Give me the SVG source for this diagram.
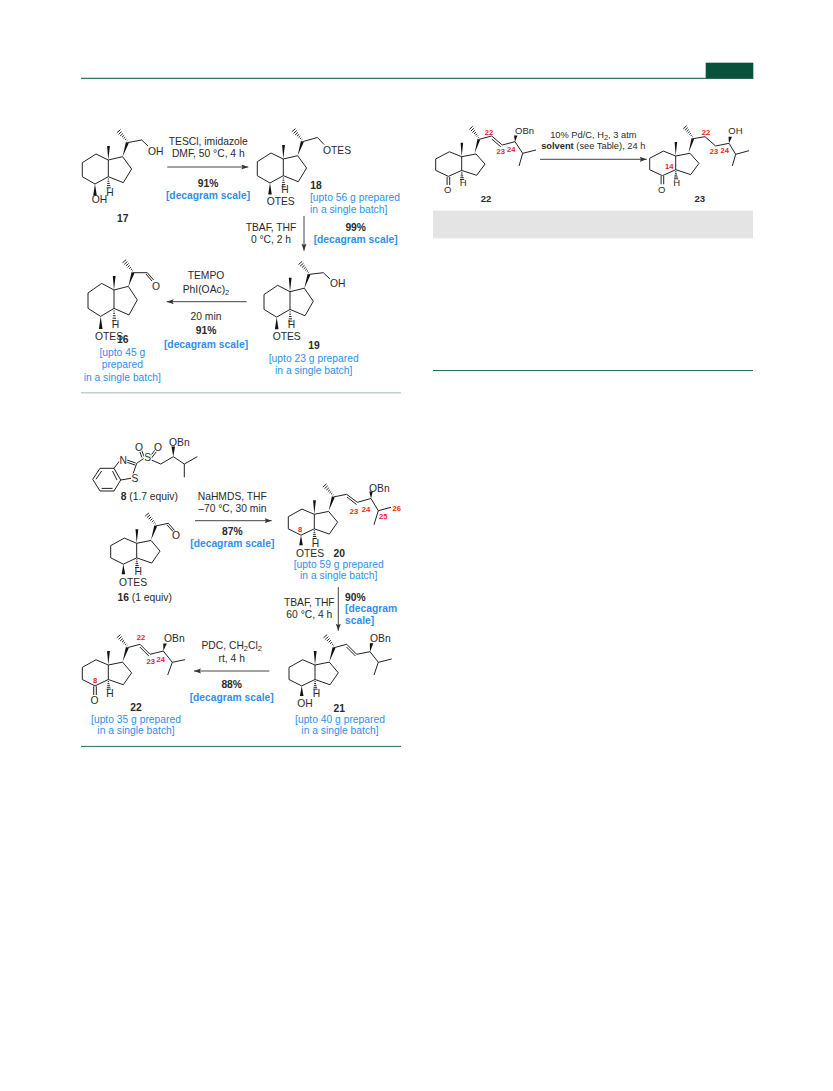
<svg xmlns="http://www.w3.org/2000/svg" width="833" height="1091" viewBox="0 0 833 1091">
<style>
text{font-family:"Liberation Sans",Arial,sans-serif;font-size:10.3px;fill:#2a2a2a}
.c{text-anchor:middle}
.b{font-weight:bold}
.bl{fill:#2f8fee}
.r{fill:#ee2222;font-size:7.6px;font-weight:bold;text-anchor:middle}
.s{font-size:9.5px}
.sub{font-size:7.5px}
.at{stroke:#fff;stroke-width:2px;paint-order:stroke}
.bd{fill:none;stroke:#222;stroke-width:1;vector-effect:non-scaling-stroke}
.w{fill:#111;stroke:none}
.ar{stroke:#444;stroke-width:1;fill:none;marker-end:url(#ah)}
</style>
<defs>
<marker id="ah" markerUnits="userSpaceOnUse" markerWidth="8" markerHeight="6" refX="7" refY="2.5" orient="auto"><path d="M0,0L7,2.5L0,5L1.3,2.5Z" fill="#333"/></marker>
<g id="up">
<path class="w" d="M0,0L-1.2,-14L1.6,-14ZM14.3,-3.3L17.6,-18L20.4,-16.8Z"/>
<path class="bd" d="M18.4,-19L19.1,-19.6M16.8,-20.1L18,-21.2M15.2,-21.3L16.9,-22.9M13.6,-22.7L15.8,-24.7M11.9,-24.1L14.6,-26.5M10.2,-25.6L13.4,-28.4M8.5,-27.2L12.2,-30.4"/>
</g>
<g id="ring">
<path class="bd" d="M0,0L-12.3,-6L-26,2.7V16.7L-13.3,24L0,16.7V0L14.3,-3.3L23.3,9L15,22.7L0,16.7"/>
<path class="bd" d="M-0.5,19H0.7M-0.8,21.2H1M-1.1,23.4H1.5M-1.4,25.6H2M-1.7,27.8H2.5"/>
</g>
<path id="cw" class="w" d="M-13.3,24L-15.1,35.5H-11.5Z"/>
<path id="co" class="bd" d="M-14.6,24.5V34.5M-12,24.5V34.5"/>
</defs>
<rect width="833" height="1091" fill="#fff"/>

<g id="connectors">
<path class="ar" d="M167.3,167H248.3"/>
<path class="ar" d="M304,216V250.7"/>
<path class="ar" d="M246.7,301.7H166.7"/>
<path class="ar" d="M195,520.7H271.7"/>
<path class="ar" d="M338.3,587V630.7"/>
<path class="ar" d="M269.3,671H194"/>
<path class="ar" d="M540,159.3H646.7"/>
</g>

<g id="page-furniture">
<rect x="705.7" y="62.7" width="47.6" height="15.6" fill="#06523a"/>
<path d="M81,78.3H753.3" stroke="#0a4f3a" stroke-width="1"/>
<path d="M81,392.8H401" stroke="#c3d2cb" stroke-width="1.5"/>
<path d="M81,746.4H401" stroke="#2f6b57" stroke-width="1"/>
<rect x="433" y="210.7" width="320" height="27.6" fill="#e4e4e4"/>
<path d="M433,370.5H753" stroke="#2f6b57" stroke-width="1"/>
</g>

<g id="n17">
<g transform="translate(108.3,160)"><use href="#up"/><use href="#ring"/><use href="#cw"/></g>
<path class="bd" d="M127.3,142.7L141.7,140L148,146"/>
<text x="148" y="155.3">OH</text>
<text x="91.7" y="203.3">OH</text>
<text x="110" y="196" class="c">H</text>
<text x="122.7" y="221.7" class="c b">17</text>
</g>
<g id="step1-label">
<text x="208.3" y="145" class="c">TESCl, imidazole</text>
<text x="208.3" y="156.7" class="c">DMF, 50 °C, 4 h</text>
<text x="208" y="186.7" class="c b">91%</text>
<text x="208" y="199" class="c b bl">[decagram scale]</text>
</g>
<g id="n18">
<g transform="translate(283.3,159)"><use href="#up"/><use href="#ring"/><use href="#cw"/></g>
<path class="bd" d="M302.3,141.7L317.5,137.5L324,144.5"/>
<text x="323" y="153.5">OTES</text>
<text x="266.7" y="205.3">OTES</text>
<text x="285" y="193.3" class="c">H</text>
<text x="316" y="188.7" class="c b">18</text>
<text x="310" y="201.3" class="bl">[upto 56 g prepared</text>
<text x="310" y="213.3" class="bl">in a single batch]</text>
</g>
<g id="step2-label">
<text x="271" y="231" class="c">TBAF, THF</text>
<text x="271" y="242.7" class="c">0 °C, 2 h</text>
<text x="355.7" y="231" class="c b">99%</text>
<text x="355.7" y="242.7" class="c b bl">[decagram scale]</text>
</g>
<g id="n19">
<g transform="translate(290,291.7)"><use href="#up"/><use href="#ring" transform="scale(1,1.06)"/><use href="#cw" transform="scale(1,1.06)"/></g>
<path class="bd" d="M309,274.4L323.3,272.7L330,279"/>
<text x="330" y="287.3">OH</text>
<text x="272.7" y="340">OTES</text>
<text x="291.5" y="328" class="c">H</text>
<text x="314" y="349.3" class="c b">19</text>
<text x="313.7" y="362" class="c bl">[upto 23 g prepared</text>
<text x="313.7" y="374.3" class="c bl">in a single batch]</text>
</g>
<g id="step3-label">
<text x="206" y="279" class="c">TEMPO</text>
<text x="206" y="293.3" class="c">PhI(OAc)<tspan class="sub" dy="2">2</tspan></text>
<text x="206" y="320" class="c">20 min</text>
<text x="206" y="334" class="c b">91%</text>
<text x="206" y="348" class="c b bl">[decagram scale]</text>
</g>
<g id="n16a">
<g transform="translate(114,290)"><use href="#up"/><use href="#ring" transform="scale(1,1.1)"/><use href="#cw" transform="scale(1,1.1)"/></g>
<path class="bd" d="M133,272.7L147.3,272.7L153.6,280M146,274L152,281"/>
<text x="156" y="289.5" class="c">O</text>
<text x="95" y="340">OTES</text>
<text x="115.5" y="328" class="c">H</text>
<text x="122.7" y="343.3" class="c b">16</text>
<text x="122.3" y="356" class="c bl">[upto 45 g</text>
<text x="122.3" y="368.3" class="c bl">prepared</text>
<text x="122.3" y="380.7" class="c bl">in a single batch]</text>
</g>

<g id="n8">
<path class="bd" d="M92.7,479.3L100,468.3H114L120.7,480L114,491H100ZM96,479.3L101.7,471M112.5,471L117,480M101.7,488.4H112.5M114,468.3L119.5,461M120.7,480L131,478.3M133,474L136.7,463.3M126,459.7L135.7,463M125.5,461.7L135,465M136.7,463.3L144,458.3M142,457.5L139,449.5M144,456.5L141,448.5M150,456.5L155,450M151.5,458L156.5,451.5M151.5,460L160.7,464L173.3,456.7L184.3,464L197.3,456.7M184.3,464V477.3"/>
<path class="w" d="M173.3,456.7L171.5,446.5H175Z"/>
<text x="169" y="446">OBn</text>
<text x="123.3" y="463.7" class="c at">N</text>
<text x="135" y="482" class="c at">S</text>
<text x="147.7" y="461" class="c at">S</text>
<text x="139" y="451" class="c at">O</text>
<text x="158" y="451" class="c at">O</text>
<text x="149.3" y="500" class="c"><tspan class="b">8</tspan> (1.7 equiv)</text>
</g>
<g id="n16b">
<g transform="translate(136.7,543.3)"><use href="#up"/><use href="#ring" transform="scale(1,.87)"/><use href="#cw" transform="scale(1,.87)"/></g>
<path class="bd" d="M155.7,526L168.3,523.3L174.6,530.5M167,524.8L173,531.6"/>
<text x="176" y="538.5" class="c">O</text>
<text x="119" y="586">OTES</text>
<text x="138.3" y="575" class="c">H</text>
<text x="144.7" y="600.7" class="c"><tspan class="b">16</tspan> (1 equiv)</text>
</g>
<g id="step4-label">
<text x="232.3" y="500" class="c">NaHMDS, THF</text>
<text x="232.3" y="511.7" class="c">–70 °C, 30 min</text>
<text x="232.3" y="535" class="c b">87%</text>
<text x="232.3" y="546.7" class="c b bl">[decagram scale]</text>
</g>
<g id="n20">
<g transform="translate(314.3,514.3)"><use href="#up"/><use href="#ring" transform="scale(1,.87)"/><use href="#cw" transform="scale(1,.87)"/></g>
<path class="bd" d="M333.3,497L346.7,494.3L357.3,502.3L371,498.5L378.3,510.7L391,507.3M378.3,510.7L374,524.7M347,497L356.5,504.5"/>
<path class="w" d="M371,498.5L369.3,491.5H372.8Z"/>
<text x="369" y="491.7">OBn</text>
<text x="296" y="556.7">OTES</text>
<text x="315.5" y="546.5" class="c">H</text>
<text x="339.3" y="556.7" class="c b">20</text>
<text x="338.7" y="568.3" class="c bl">[upto 59 g prepared</text>
<text x="338.7" y="579.3" class="c bl">in a single batch]</text>
<text x="354" y="513.5" class="r">23</text>
<text x="366" y="511.5" class="r">24</text>
<text x="383.3" y="519" class="r">25</text>
<text x="396.7" y="511" class="r">26</text>
<text x="300" y="531.5" class="r">8</text>
</g>
<g id="step5-label">
<text x="309.3" y="606" class="c">TBAF, THF</text>
<text x="309.3" y="617.7" class="c">60 °C, 4 h</text>
<text x="345" y="600.7" class="b">90%</text>
<text x="345" y="612.3" class="b bl">[decagram</text>
<text x="345" y="624" class="b bl">scale]</text>
</g>
<g id="n21">
<g transform="translate(315,665)"><use href="#up"/><use href="#ring" transform="scale(1,.87)"/><use href="#cw" transform="scale(1,.87)"/></g>
<path class="bd" d="M334,647.7L346.7,644.3L356.7,654.3L370,651.7L378.3,662.3L391.7,659M378.3,662.3L374,675M346.5,647L355.5,656"/>
<path class="w" d="M370,651.7L369.8,643.3H373.3Z"/>
<text x="370" y="641.7">OBn</text>
<text x="297.3" y="707.3">OH</text>
<text x="316.5" y="697.3" class="c">H</text>
<text x="339.3" y="711.7" class="c b">21</text>
<text x="340" y="723.3" class="c bl">[upto 40 g prepared</text>
<text x="340" y="734.3" class="c bl">in a single batch]</text>
</g>
<g id="step6-label">
<text x="231.7" y="649.3" class="c">PDC, CH<tspan class="sub" dy="2">2</tspan><tspan dy="-2">Cl</tspan><tspan class="sub" dy="2">2</tspan></text>
<text x="231.7" y="661.7" class="c">rt, 4 h</text>
<text x="231.7" y="687.7" class="c b">88%</text>
<text x="231.7" y="700.7" class="c b bl">[decagram scale]</text>
</g>
<g id="n22a">
<g transform="translate(108.3,665)"><use href="#up"/><use href="#ring" transform="scale(1,.87)"/><use href="#co" transform="scale(1,.87)"/></g>
<path class="bd" d="M127.3,647.7L140,644.3L150,654.3L163.3,651L172.3,662.3L185,659.7M172.3,662.3L167.7,675M139.8,647L148.8,656"/>
<path class="w" d="M163.3,651L163.3,643.5H166.8Z"/>
<text x="164" y="641.7">OBn</text>
<text x="94.5" y="704" class="c">O</text>
<text x="110" y="697.3" class="c">H</text>
<text x="136" y="711" class="c b">22</text>
<text x="136" y="723.3" class="c bl">[upto 35 g prepared</text>
<text x="136" y="734.3" class="c bl">in a single batch]</text>
<text x="141" y="640" class="r">22</text>
<text x="150.7" y="664.4" class="r">23</text>
<text x="160.7" y="662.4" class="r">24</text>
<text x="95" y="682.5" class="r">8</text>
</g>

<g id="n22b">
<g transform="translate(461.7,156.7)"><use href="#up" transform="scale(.9,1)"/><use href="#ring" transform="scale(1,.82)"/><use href="#co" transform="scale(1,.82)"/></g>
<path class="bd" d="M478.8,139.4L491.7,136L502.3,145L515,141.7L522.7,153.3L536,150M522.7,153.3L519,166M491.7,139L500.8,146.8"/>
<path class="w" d="M515,141.7L514,135.5H517.5Z"/>
<text x="515" y="134" class="s">OBn</text>
<text x="447.7" y="192.7" class="c s">O</text>
<text x="463.3" y="185.7" class="c s">H</text>
<text x="486" y="202.3" class="c b s">22</text>
<text x="489" y="134.8" class="r">22</text>
<text x="500.7" y="154.3" class="r">23</text>
<text x="511.3" y="151.9" class="r">24</text>
</g>
<g id="step7-label">
<text x="593.3" y="138.3" class="c s" style="font-size:9.3px">10% Pd/C, H<tspan class="sub" dy="2">2</tspan><tspan dy="-2">, 3 atm</tspan></text>
<text x="593.3" y="149.3" class="c s" style="font-size:9.3px"><tspan class="b">solvent</tspan> (see Table), 24 h</text>
</g>
<g id="n23">
<g transform="translate(675.7,156)"><use href="#up" transform="scale(.9,1)"/><use href="#ring" transform="scale(1,.82)"/><use href="#co" transform="scale(1,.82)"/></g>
<path class="bd" d="M692.8,138.7L705,136.7L715.7,146L729,143.3L735.7,154.3L749,150.7M735.7,154.3L732.3,166"/>
<path class="w" d="M729,143.3L728.5,136.7H732Z"/>
<text x="728.3" y="134" class="s">OH</text>
<text x="661.7" y="192.7" class="c s">O</text>
<text x="676.7" y="185.7" class="c s">H</text>
<text x="699.7" y="202.3" class="c b s">23</text>
<text x="706" y="134.8" class="r">22</text>
<text x="714" y="154.3" class="r">23</text>
<text x="724.7" y="153.2" class="r">24</text>
<text x="669.3" y="168.5" class="r">14</text>
</g>
</svg>
